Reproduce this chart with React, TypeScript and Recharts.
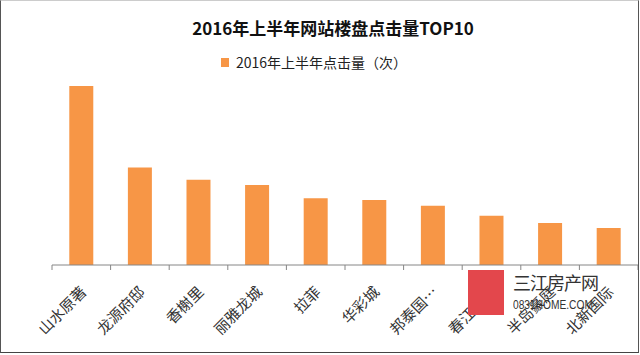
import React from 'react';
import { BarChart, Bar, XAxis, YAxis, Legend } from 'recharts';

const categories = ['山水原著', '龙源府邸', '香榭里', '丽雅龙城', '拉菲', '华彩城', '邦泰国…', '春江花月', '半岛豪庭', '北新国际'];
const clicks = [179, 97.5, 85.3, 80, 66.7, 65, 59.3, 49.3, 42, 37];
const seriesName = '2016年上半年点击量（次）';
const title = '2016年上半年网站楼盘点击量TOP10';

const data = categories.map((name, i) => ({ name, value: clicks[i] }));

const W = 640;
const H = 355;
const M = { top: 65, right: 2, left: 52, bottom: 0 };
const BAND = (W - M.left - M.right) / categories.length;
const ORANGE = '#F79646';
const AXIS = '#868686';
const FONT = '"Noto Sans CJK SC", "Noto Sans", sans-serif';

const CategoryTick = (props: any) => {
  const { x, y, payload, index } = props;
  const half = BAND / 2;
  const ax = x + 6;
  const ay = y + 28;
  return (
    <g>
      <line x1={x - half} y1={y} x2={x - half} y2={y + 5} stroke={AXIS} strokeWidth={1} />
      {index === categories.length - 1 && (
        <line x1={x + half} y1={y} x2={x + half} y2={y + 5} stroke={AXIS} strokeWidth={1} />
      )}
      <text
        x={ax}
        y={ay}
        transform={`rotate(-45 ${ax} ${ay})`}
        textAnchor="end"
        fontSize={15}
        fontFamily={FONT}
        fill="#333"
      >
        {payload.value}
      </text>
    </g>
  );
};

const LegendContent = () => (
  <div style={{ display: 'flex', justifyContent: 'center', alignItems: 'center', marginLeft: -12, fontFamily: FONT, fontSize: 14, color: '#222' }}>
    <span style={{ display: 'inline-block', width: 8, height: 9, background: ORANGE, marginRight: 7 }} />
    <span>{seriesName}</span>
  </div>
);

export default function App() {
  return (
    <div style={{ position: 'absolute', left: 0, top: 0, width: W, height: H, background: '#fff' }}>
      <div
        style={{
          position: 'absolute', left: 0, top: 0, width: 637, height: 351,
          borderLeft: '1px solid #555', borderRight: '1px solid #555', borderBottom: '1px solid #444', borderTop: '1px solid #ccc',
          pointerEvents: 'none', zIndex: 2,
        }}
      />
      <div
        style={{
          position: 'absolute', left: 0, top: 15, width: W, textAlign: 'center', paddingLeft: 26, boxSizing: 'border-box',
          fontFamily: FONT, fontSize: 17, fontWeight: 700, color: '#111', zIndex: 1,
        }}
      >
        {title}
      </div>
      <BarChart width={W} height={H} data={data} margin={M} barCategoryGap="29.5%">
        <XAxis
          dataKey="name"
          interval={0}
          height={H - 265}
          tickSize={0}
          tickMargin={0}
          tickLine={false}
          stroke={AXIS}
          axisLine={{ stroke: AXIS, strokeWidth: 1 }}
          tick={<CategoryTick />}
        />
        <YAxis hide domain={[0, 200]} />
        <Legend
          verticalAlign="middle"
          align="center"
          layout="horizontal"
          wrapperStyle={{ top: 52, left: 0, width: W }}
          content={<LegendContent />}
        />
        <Bar dataKey="value" name={seriesName} fill={ORANGE} isAnimationActive={false} />
      </BarChart>
      <div style={{ position: 'absolute', left: 468, top: 270, width: 36, height: 45, background: '#e3474c', zIndex: 1 }} />
      <div style={{ position: 'absolute', left: 513, top: 269, fontFamily: FONT, fontSize: 18, color: '#333', zIndex: 1, letterSpacing: -1 }}>三江房产网</div>
      <div style={{ position: 'absolute', left: 513, top: 298, fontFamily: '"Liberation Sans Narrow", "Liberation Sans", sans-serif', fontSize: 12, color: '#333', zIndex: 1, transform: 'scaleX(0.85)', transformOrigin: 'left' }}>0831HOME.COM</div>
    </div>
  );
}
